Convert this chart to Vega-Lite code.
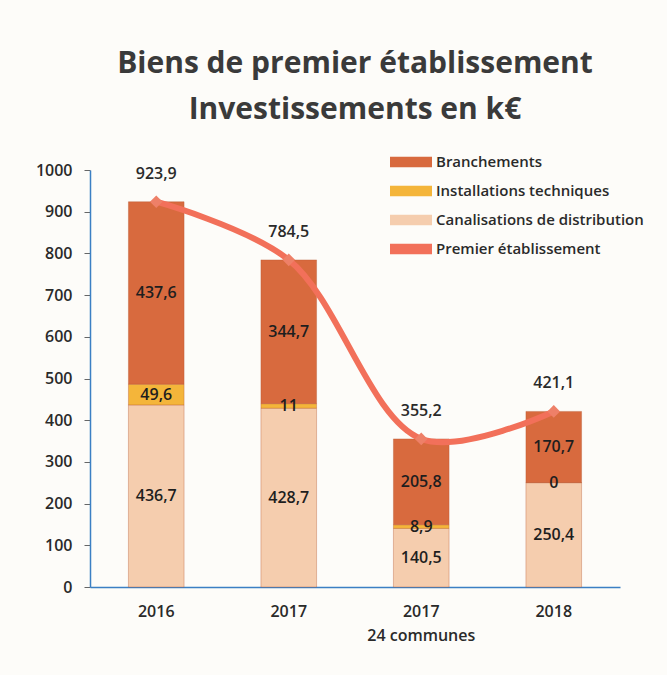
{
  "$schema": "https://vega.github.io/schema/vega-lite/v6.json",
  "width": 530,
  "height": 417,
  "autosize": {"type": "none"},
  "padding": {"left": 90, "top": 170, "right": 47, "bottom": 88},
  "background": "#fdfcf9",
  "view": {"stroke": null},
  "title": {
    "text": ["Biens de premier établissement", "Investissements en k€"],
    "font": "Open Sans",
    "fontSize": 30,
    "fontWeight": "bold",
    "color": "#3a3a3a",
    "lineHeight": 46,
    "anchor": "middle",
    "offset": 16
  },
  "datasets": {
    "bars": [
      {"cat": "2016", "serie": "Canalisations de distribution", "ord": 1, "v": 436.7},
      {"cat": "2016", "serie": "Installations techniques", "ord": 2, "v": 49.6},
      {"cat": "2016", "serie": "Branchements", "ord": 3, "v": 437.6},
      {"cat": "2017", "serie": "Canalisations de distribution", "ord": 1, "v": 428.7},
      {"cat": "2017", "serie": "Installations techniques", "ord": 2, "v": 11},
      {"cat": "2017", "serie": "Branchements", "ord": 3, "v": 344.7},
      {"cat": "2017 24 communes", "serie": "Canalisations de distribution", "ord": 1, "v": 140.5},
      {"cat": "2017 24 communes", "serie": "Installations techniques", "ord": 2, "v": 8.9},
      {"cat": "2017 24 communes", "serie": "Branchements", "ord": 3, "v": 205.8},
      {"cat": "2018", "serie": "Canalisations de distribution", "ord": 1, "v": 250.4},
      {"cat": "2018", "serie": "Installations techniques", "ord": 2, "v": 0},
      {"cat": "2018", "serie": "Branchements", "ord": 3, "v": 170.7}
    ],
    "totals": [
      {"cat": "2016", "serie": "Premier établissement", "v": 923.9},
      {"cat": "2017", "serie": "Premier établissement", "v": 784.5},
      {"cat": "2017 24 communes", "serie": "Premier établissement", "v": 355.2},
      {"cat": "2018", "serie": "Premier établissement", "v": 421.1}
    ]
  },
  "encoding": {
    "x": {
      "field": "cat",
      "type": "nominal",
      "sort": ["2016", "2017", "2017 24 communes", "2018"],
      "scale": {"paddingInner": 0.58, "paddingOuter": 0.29},
      "axis": {
        "title": null,
        "labelAngle": 0,
        "labelExpr": "datum.value == '2017 24 communes' ? ['2017', '24 communes'] : datum.value",
        "labelFont": "Open Sans",
        "labelFontSize": 16,
        "labelFontWeight": 600,
        "labelColor": "#2a2a2a",
        "labelPadding": 16,
        "labelLineHeight": 24,
        "domainColor": "#3b7fc4",
        "domainWidth": 1.5,
        "ticks": false
      }
    }
  },
  "layer": [
    {
      "data": {"name": "bars"},
      "mark": {"type": "bar", "stroke": "#b3542e", "strokeWidth": 0.6, "strokeOpacity": 0.6},
      "encoding": {
        "y": {
          "field": "v",
          "type": "quantitative",
          "stack": "zero",
          "scale": {"domain": [0, 1000], "nice": false},
          "axis": {
            "title": null,
            "values": [0, 100, 200, 300, 400, 500, 600, 700, 800, 900, 1000],
            "format": "d",
            "grid": false,
            "labelFont": "Open Sans",
            "labelFontSize": 16,
            "labelFontWeight": 600,
            "labelColor": "#2a2a2a",
            "labelPadding": 12,
            "domainColor": "#3b7fc4",
            "domainWidth": 1.5,
            "tickColor": "#666",
            "tickSize": 6
          }
        },
        "order": {"field": "ord", "type": "quantitative"},
        "color": {
          "field": "serie",
          "type": "nominal",
          "scale": {
            "domain": ["Branchements", "Installations techniques", "Canalisations de distribution", "Premier établissement"],
            "range": ["#d86a3e", "#f4b53a", "#f5cdae", "#f2705a"]
          },
          "legend": {
            "title": null,
            "orient": "none",
            "legendX": 300,
            "legendY": -29,
            "padding": 0,
            "labelFont": "Open Sans",
            "labelFontSize": 15,
            "labelFontWeight": 600,
            "labelColor": "#2a2a2a",
            "labelLimit": 300,
            "symbolType": "M-1,-0.25H1V0.25H-1Z",
            "symbolSize": 1764,
            "symbolStrokeWidth": 0,
            "rowPadding": -11,
            "labelOffset": 4
          }
        }
      }
    },
    {
      "data": {"name": "bars"},
      "transform": [
        {"stack": "v", "groupby": ["cat"], "sort": [{"field": "ord"}], "as": ["y0", "y1"]},
        {"calculate": "(datum.y0 + datum.y1) / 2", "as": "ymid"},
        {"calculate": "replace(toString(datum.v), '.', ',')", "as": "lab"}
      ],
      "mark": {"type": "text", "font": "Open Sans", "fontSize": 16, "fontWeight": 600, "color": "#1e1e1e"},
      "encoding": {
        "y": {"field": "ymid", "type": "quantitative"},
        "text": {"field": "lab"}
      }
    },
    {
      "data": {"name": "totals"},
      "mark": {"type": "line", "interpolate": "catmull-rom", "strokeWidth": 6, "strokeCap": "round"},
      "encoding": {
        "y": {"field": "v", "type": "quantitative"},
        "color": {"field": "serie", "type": "nominal"}
      }
    },
    {
      "data": {"name": "totals"},
      "mark": {"type": "point", "shape": "diamond", "filled": true, "size": 160, "color": "#ee8068", "opacity": 1},
      "encoding": {
        "y": {"field": "v", "type": "quantitative"}
      }
    },
    {
      "data": {"name": "totals"},
      "transform": [
        {"calculate": "replace(toString(datum.v), '.', ',')", "as": "lab"}
      ],
      "mark": {"type": "text", "font": "Open Sans", "fontSize": 16, "fontWeight": 600, "color": "#2a2a2a", "dy": -28},
      "encoding": {
        "y": {"field": "v", "type": "quantitative"},
        "text": {"field": "lab"}
      }
    }
  ]
}
